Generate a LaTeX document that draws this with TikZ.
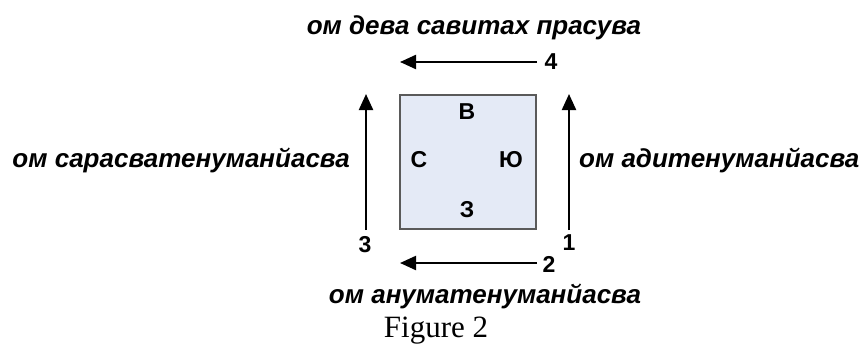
\documentclass[tikz,border=0pt]{standalone}
\usepackage{fontspec}
\setmainfont{Liberation Serif}
\newfontfamily\lsans{Liberation Sans}
\usetikzlibrary{arrows.meta}
\definecolor{kvfill}{HTML}{E4EAF6}
\definecolor{kvdraw}{HTML}{5A5A5A}
\tikzset{
  mantra/.style={font=\lsans\bfseries\itshape\fontsize{26}{26}\selectfont, inner sep=0pt},
  bukva/.style={font=\lsans\bfseries\fontsize{23}{23}\selectfont, inner sep=0pt},
  strelka/.style={line width=2.2pt, -{Triangle[length=16pt,width=14pt]}}
}

\begin{document}
\begin{tikzpicture}[x=1pt,y=-1pt]
			%%%%% START %%%%%
			\useasboundingbox (0,0) rectangle (861,345);
			
			\node[draw=kvdraw, fill=kvfill, line width=1.6pt, minimum width=136pt, minimum height=134pt] (kv) at (468,162) {};
			\node[bukva] (vost) at (467,112) {В};
			\node[bukva] (sev) at (419,160) {С};
			\node[bukva] (yug) at (511,160) {Ю};
			\node[bukva] (zap) at (467,210) {З};
			
			\coordinate (p1a) at (569,230);
			\coordinate (p1b) at (569,94);
			\coordinate (p2a) at (537,263);
			\coordinate (p2b) at (400,263);
			\coordinate (p3a) at (366,230);
			\coordinate (p3b) at (366,94);
			\coordinate (p4a) at (537,62);
			\coordinate (p4b) at (400,62);
			
			\draw[strelka] (p1a) -- (p1b);
			\draw[strelka] (p2a) -- (p2b);
			\draw[strelka] (p3a) -- (p3b);
			\draw[strelka] (p4a) -- (p4b);
			
			\node[bukva] (n1) at (569,243) {1};
			\node[bukva] (n2) at (549,264) {2};
			\node[bukva] (n3) at (365,245) {3};
			\node[bukva] (n4) at (551,62) {4};
			
			\node[mantra] (verh) at (474,28) {ом дева савитах прасува};
			\node[mantra, anchor=east] (levo) at (350,160) {ом сарасватенуманйасва};
			\node[mantra, anchor=west] (pravo) at (579,160) {ом адитенуманйасва};
			\node[mantra] (niz) at (485,296) {ом ануматенуманйасва};
			
			\node[inner sep=0pt, font=\fontsize{31}{31}\selectfont] (fig) at (436,331) {Figure 2};
			%%%%% END %%%%%
\end{tikzpicture}
\end{document}
